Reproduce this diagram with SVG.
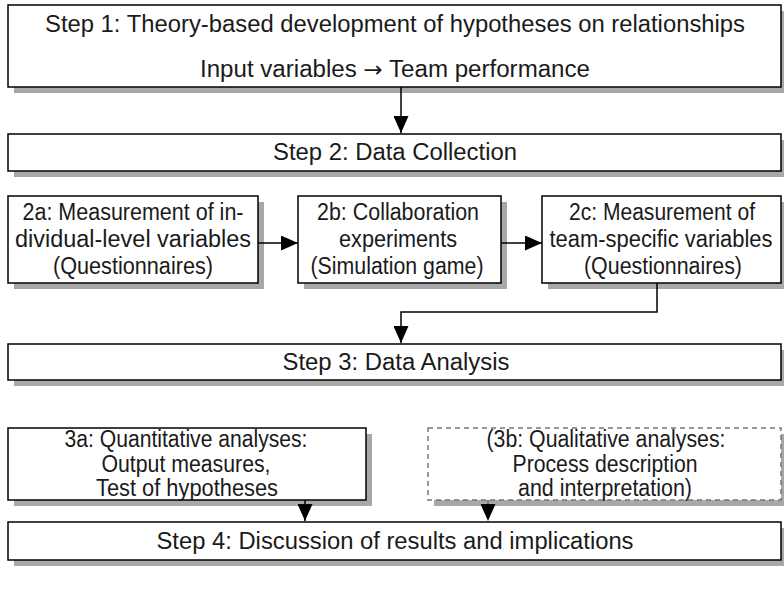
<svg xmlns="http://www.w3.org/2000/svg" width="784" height="589" viewBox="0 0 784 589">
<style>
.box{fill:#fff;stroke:#000;stroke-width:1.5}
.dbox{fill:#fff;stroke:#777;stroke-width:1.5;stroke-dasharray:5,4}
.sh{fill:#a8a8a8}
text{font-family:"Liberation Sans",Arial,sans-serif;font-size:23px;fill:#1a1a1a;text-anchor:middle}
.c{fill:none;stroke:#000;stroke-width:1.5}
.cd{fill:none;stroke:#666;stroke-width:1.5;stroke-dasharray:4,3}
</style>
<defs>
<marker id="ahb" viewBox="0 0 17 15" refX="17" refY="7.5" markerWidth="17" markerHeight="15" orient="auto" markerUnits="userSpaceOnUse"><path d="M0,0L17,7.5L0,15z" fill="#000"/></marker>
</defs>
<rect width="784" height="589" fill="#fff"/>
<g id="step1"><rect class="sh" x="14" y="11" width="773" height="82"/><rect class="box" x="8" y="5" width="773" height="82"/>
<text x="395" y="32" textLength="700" lengthAdjust="spacingAndGlyphs">Step 1: Theory-based development of hypotheses on relationships</text>
<text x="395" y="77" textLength="390" lengthAdjust="spacingAndGlyphs">Input variables <tspan font-family="DejaVu Sans" font-size="22">→</tspan> Team performance</text></g>
<g id="step2"><rect class="sh" x="14" y="140" width="773" height="37"/><rect class="box" x="8" y="134" width="773" height="37"/>
<text x="395" y="160" textLength="244" lengthAdjust="spacingAndGlyphs">Step 2: Data Collection</text></g>
<g id="n2a"><rect class="sh" x="14" y="202" width="250" height="87"/><rect class="box" x="8" y="196" width="250" height="87"/>
<text x="133" y="220" textLength="221" lengthAdjust="spacingAndGlyphs">2a: Measurement of in-</text>
<text x="133" y="247" textLength="236" lengthAdjust="spacingAndGlyphs">dividual-level variables</text>
<text x="133" y="274" textLength="160" lengthAdjust="spacingAndGlyphs">(Questionnaires)</text></g>
<g id="n2b"><rect class="sh" x="304" y="202" width="203" height="87"/><rect class="box" x="298" y="196" width="203" height="87"/>
<text x="398" y="220" textLength="162" lengthAdjust="spacingAndGlyphs">2b: Collaboration</text>
<text x="398" y="247" textLength="118" lengthAdjust="spacingAndGlyphs">experiments</text>
<text x="397" y="274" textLength="173" lengthAdjust="spacingAndGlyphs">(Simulation game)</text></g>
<g id="n2c"><rect class="sh" x="548" y="202" width="239" height="87"/><rect class="box" x="542" y="196" width="239" height="87"/>
<text x="662" y="220" textLength="186" lengthAdjust="spacingAndGlyphs">2c: Measurement of</text>
<text x="661" y="247" textLength="223" lengthAdjust="spacingAndGlyphs">team-specific variables</text>
<text x="663" y="274" textLength="158" lengthAdjust="spacingAndGlyphs">(Questionnaires)</text></g>
<g id="step3"><rect class="sh" x="14" y="350" width="773" height="36"/><rect class="box" x="8" y="344" width="773" height="36"/>
<text x="396" y="370" textLength="227" lengthAdjust="spacingAndGlyphs">Step 3: Data Analysis</text></g>
<g id="n3a"><rect class="sh" x="14" y="434" width="358" height="72"/><rect class="box" x="8" y="428" width="358" height="72"/>
<text x="186" y="447" textLength="243" lengthAdjust="spacingAndGlyphs">3a: Quantitative analyses:</text>
<text x="186" y="472" textLength="169" lengthAdjust="spacingAndGlyphs">Output measures,</text>
<text x="187" y="496" textLength="182" lengthAdjust="spacingAndGlyphs">Test of hypotheses</text></g>
<g id="n3b"><rect class="sh" x="434" y="434" width="353" height="72"/><rect class="dbox" x="428" y="428" width="353" height="72"/>
<text x="606" y="447" textLength="239" lengthAdjust="spacingAndGlyphs">(3b: Qualitative analyses:</text>
<text x="605" y="472" textLength="185" lengthAdjust="spacingAndGlyphs">Process description</text>
<text x="605" y="496" textLength="174" lengthAdjust="spacingAndGlyphs">and interpretation)</text></g>
<g id="step4"><rect class="sh" x="14" y="528" width="773" height="38"/><rect class="box" x="8" y="522" width="773" height="38"/>
<text x="395" y="549" textLength="477" lengthAdjust="spacingAndGlyphs">Step 4: Discussion of results and implications</text></g>
<g id="connectors">
<path class="c" d="M401,87V133" marker-end="url(#ahb)"/>
<path class="c" d="M258,243H298" marker-end="url(#ahb)"/>
<path class="c" d="M501,243H542" marker-end="url(#ahb)"/>
<path class="c" d="M657,283V312H401V343" marker-end="url(#ahb)"/>
<path class="c" d="M305,500V521" marker-end="url(#ahb)"/>
<path class="cd" d="M488,500V521" marker-end="url(#ahb)"/>
</g>
</svg>
